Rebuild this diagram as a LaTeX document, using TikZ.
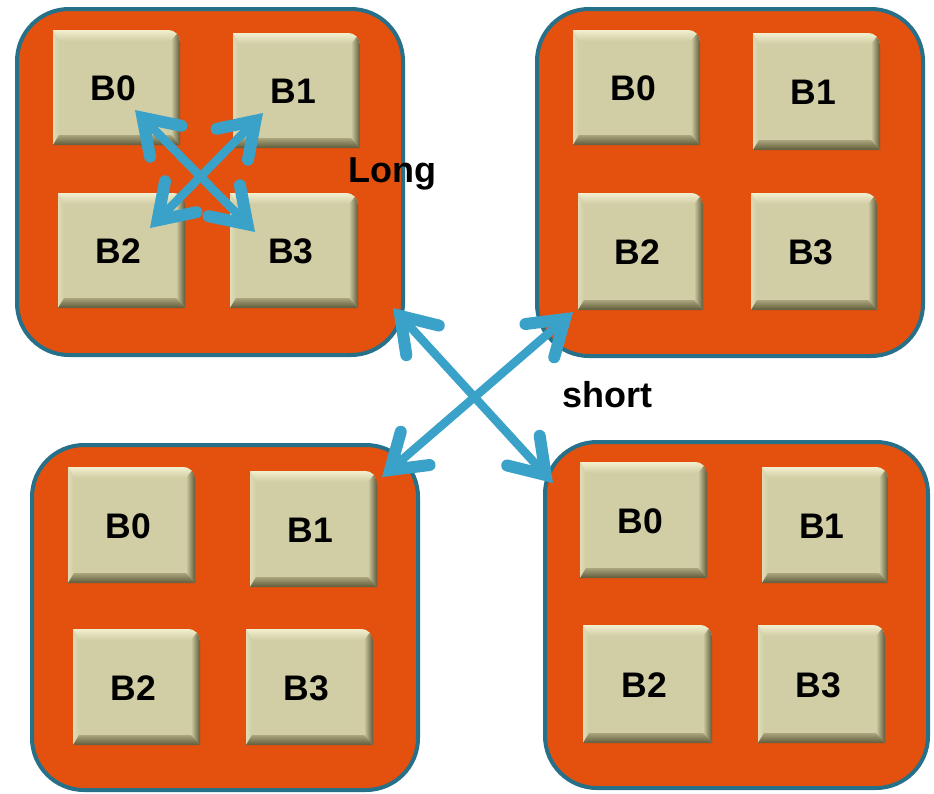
\documentclass[tikz,border=0pt]{standalone}
\usepackage{fontspec}
\setmainfont{Liberation Sans}
\usetikzlibrary{arrows.meta,calc}

\definecolor{panelfill}{HTML}{E4500E}
\definecolor{panelline}{HTML}{26708A}
\definecolor{linkblue}{HTML}{3AA2C8}
\definecolor{tilebody}{HTML}{D1CDA4}
\definecolor{tilelight}{HTML}{F1EFCE}
\definecolor{tileside}{HTML}{DEDBB6}
\definecolor{tiledark}{HTML}{5F5A3A}
\definecolor{tilelow}{HTML}{ABA57D}

\tikzset{
  panel/.style={draw=panelline, line width=4pt, fill=panelfill,
    rounded corners=52pt, inner sep=0pt},
  tilelabel/.style={font=\fontsize{35.5}{40}\selectfont\bfseries, inner sep=0pt},
  notelabel/.style={font=\fontsize{36}{40}\selectfont\bfseries, inner sep=0pt,
    anchor=base west},
  link/.style={draw=linkblue, line width=8.5pt, line cap=round,
    >={Straight Barb[length=33pt,width=44pt,line width=12pt,line cap=round]}, <->},
}

% bevelled tile: name, x1, y1, x2, y2, label (top-right corner rounded)
\newcommand\drawtile[6]{%
  \begin{scope}
    \clip (#2,#3) -- ({#4-12},#3) .. controls ({#4-5.4},#3) and (#4,{#3+5.4}) ..
      (#4,{#3+12}) -- (#4,#5) -- (#2,#5) -- cycle;
    \fill[tilebody] (#2,#3) rectangle (#4,#5);
    \shade[top color=tilelight, bottom color=tilebody]
      (#2,#3) -- (#4,#3) -- ({#4-9},{#3+11}) -- ({#2+6},{#3+11}) -- cycle;
    \shade[left color=tileside, right color=tilebody]
      (#2,#3) -- ({#2+6},{#3+11}) -- ({#2+6},{#5-10}) -- (#2,#5) -- cycle;
    \shade[left color=tilebody, right color=tiledark]
      (#4,#3) -- (#4,#5) -- ({#4-9},{#5-10}) -- ({#4-9},{#3+11}) -- cycle;
    \shade[top color=tilelow, bottom color=tiledark]
      (#2,#5) -- (#4,#5) -- ({#4-9},{#5-10}) -- ({#2+6},{#5-10}) -- cycle;
  \end{scope}
  \node[tilelabel] (#1) at ({(#2+#4)/2-3},{(#3+#5)/2+1}) {#6};
}

\begin{document}
\begin{tikzpicture}[x=1pt, y=-1pt]
  \fill[white] (0,0) rectangle (934,793);
  \useasboundingbox (0,0) rectangle (934,793);

  % four banks
  \node[panel, minimum width=386pt, minimum height=346pt] (tl) at (210,182) {};
  \node[panel, minimum width=386pt, minimum height=347pt] (tr) at (730,182.5) {};
  \node[panel, minimum width=386pt, minimum height=345pt] (bl) at (225,617.5) {};
  \node[panel, minimum width=383pt, minimum height=346pt] (br) at (736.5,615) {};

  % tiles of the top-left bank
  \drawtile{tlB0}{53}{30}{180}{145}{B0}
  \drawtile{tlB1}{233}{33}{360}{148}{B1}
  \drawtile{tlB2}{58}{193}{185}{308}{B2}
  \drawtile{tlB3}{230}{193}{358}{308}{B3}

  % tiles of the top-right bank
  \drawtile{trB0}{573}{30}{700}{145}{B0}
  \drawtile{trB1}{753}{33}{880}{150}{B1}
  \drawtile{trB2}{578}{193}{703}{310}{B2}
  \drawtile{trB3}{751}{193}{877}{310}{B3}

  % tiles of the bottom-left bank
  \drawtile{blB0}{68}{467}{195}{583}{B0}
  \drawtile{blB1}{250}{471}{377}{587}{B1}
  \drawtile{blB2}{73}{629}{200}{745}{B2}
  \drawtile{blB3}{246}{629}{373}{745}{B3}

  % tiles of the bottom-right bank
  \drawtile{brB0}{580}{462}{707}{578}{B0}
  \drawtile{brB1}{762}{467}{888}{583}{B1}
  \drawtile{brB2}{583}{625}{712}{743}{B2}
  \drawtile{brB3}{758}{625}{885}{743}{B3}

  % links inside one bank
  \draw[link] ($(tlB0.center)+(21.5,21.5)$) -- ($(tlB3.center)+(-36,-19.5)$);
  \draw[link] ($(tlB1.center)+(-30.5,21.5)$) -- ($(tlB2.center)+(31.5,-23.5)$);

  % links between banks
  \draw[link] ($(tl.south east)+(-12,-49)$) -- ($(br.north west)+(10,43)$);
  \draw[link] ($(tr.south west)+(38,-46)$) -- ($(bl.north east)+(-38,34)$);

  \node[notelabel] (long) at (348,182) {Long};
  \node[notelabel] (short) at (562,407) {short};
\end{tikzpicture}
\end{document}
